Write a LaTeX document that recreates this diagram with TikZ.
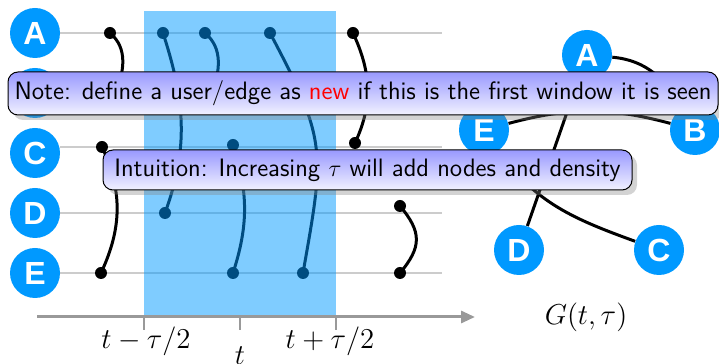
\documentclass[tikz,border=0pt]{standalone}
\usepackage{fontspec}
\newfontfamily\circfont{Liberation Sans}
\usetikzlibrary{shadows,arrows.meta}
\definecolor{TLBlue}{HTML}{0099FF}
\definecolor{TLRow}{HTML}{CCCCCC}
\definecolor{TLAxis}{HTML}{999999}
\definecolor{NoteTop}{HTML}{9999FF}
\definecolor{NoteBot}{HTML}{F2F2FF}
\tikzset{
  vnode/.style={circle,fill=TLBlue,minimum size=25pt,inner sep=0pt,text=white,
    font=\circfont\bfseries\fontsize{16}{18}\selectfont},
  rowline/.style={TLRow,line width=1pt},
  tedge/.style={line width=1.5pt},
  tdot/.style={circle,fill,inner sep=0pt,minimum size=6pt},
  notebox/.style={draw=black,line width=0.5pt,rounded corners=5pt,top color=NoteTop,bottom color=NoteBot,
    drop shadow={opacity=0.35,shadow xshift=2.5pt,shadow yshift=-2.5pt},
    font=\sffamily\fontsize{12.6}{14}\selectfont,inner sep=0pt},
  axislabel/.style={font=\fontsize{15}{17}\selectfont,inner sep=0pt},
}
\begin{document}
\begin{tikzpicture}[x=0.5pt,y=0.5pt]
\path[use as bounding box] (0,0) rectangle (719,364);
% rows
\draw[rowline] (60,331) -- (442,331);
\draw[rowline] (60,271) -- (442,271);
\draw[rowline] (60,217) -- (442,217);
\draw[rowline] (60,151) -- (442,151);
\draw[rowline] (60,91) -- (442,91);
% edge end points
\coordinate (e1a) at (110,331); \coordinate (e1b) at (116,271);
\coordinate (e2a) at (102,217); \coordinate (e2b) at (101,91);
\coordinate (e3a) at (163,331); \coordinate (e3b) at (165,151);
\coordinate (e4a) at (205,331); \coordinate (e4b) at (212,271);
\coordinate (e5a) at (233,219); \coordinate (e5b) at (233,91);
\coordinate (e6a) at (270,331); \coordinate (e6b) at (303,91);
\coordinate (e7a) at (353,331); \coordinate (e7b) at (355,221);
\coordinate (e8a) at (400,158); \coordinate (e8b) at (400,91);
\draw[tedge] (e1a) to[out=-40,in=70] (e1b);
\draw[tedge] (e2a) to[out=-65,in=65] (e2b);
\draw[tedge] (e3a) to[out=-72,in=70] (e3b);
\draw[tedge] (e4a) to[out=-40,in=70] (e4b);
\draw[tedge] (e5a) to[out=-72,in=72] (e5b);
\draw[tedge] (e6a) to[out=-62,in=80,looseness=1.3] (e6b);
\draw[tedge] (e7a) to[out=-65,in=65] (e7b);
\draw[tedge] (e8a) to[out=-50,in=50,looseness=1.3] (e8b);
\foreach \e in {e1a,e1b,e2a,e2b,e3a,e3b,e4a,e4b,e5a,e5b,e6a,e6b,e7a,e7b,e8a,e8b}
  \node[tdot] at (\e) {};
% window
\fill[TLBlue,fill opacity=0.5] (144,47) rectangle (336,353);
% time axis
\draw[TLAxis,line width=1.5pt,-{Triangle[length=7pt,width=6pt]}] (37,47) -- (475,47);
\draw[TLAxis,line width=1pt] (144,47) -- (144,34);
\draw[TLAxis,line width=1pt] (240,47) -- (240,34);
\draw[TLAxis,line width=1pt] (336,47) -- (336,34);
\node[axislabel] (lo) at (146,23) {$t-\tau/2$};
\node[axislabel] (hi) at (330,23) {$t+\tau/2$};
\node[axislabel,anchor=north] (mid) at (240,18) {$t$};
% users
\node[vnode] (rA) at (35,331) {A};
\node[vnode] (rB) at (35,271) {B};
\node[vnode] (rC) at (35,211) {C};
\node[vnode] (rD) at (35,151) {D};
\node[vnode] (rE) at (35,91) {E};
% aggregated graph
\node[vnode] (gA) at (587,309) {A};
\node[vnode] (gB) at (695,234) {B};
\node[vnode] (gC) at (659,114) {C};
\node[vnode] (gD) at (519,114) {D};
\node[vnode] (gE) at (484,234) {E};
\draw[tedge] (gA) -- (gD);
\draw[tedge] (gA) to[out=-5,in=120] (gB);
\draw[tedge] (gE) to[out=15,in=165] (gB);
\draw[tedge] (gE) to[out=-55,in=160] (gC);
\node[axislabel] (glabel) at (586,47) {$G(t,\tau)$};
% notes
\node[notebox,minimum width=355pt,minimum height=21.5pt] (note) at (363,270.5)
  {Note: define a user/edge as \textcolor{red}{new} if this is the first window it is seen};
\node[notebox,minimum width=264.5pt,minimum height=20pt] (intuition) at (367.5,194)
  {Intuition: Increasing $\tau$ will add nodes and density};
\end{tikzpicture}
\end{document}
